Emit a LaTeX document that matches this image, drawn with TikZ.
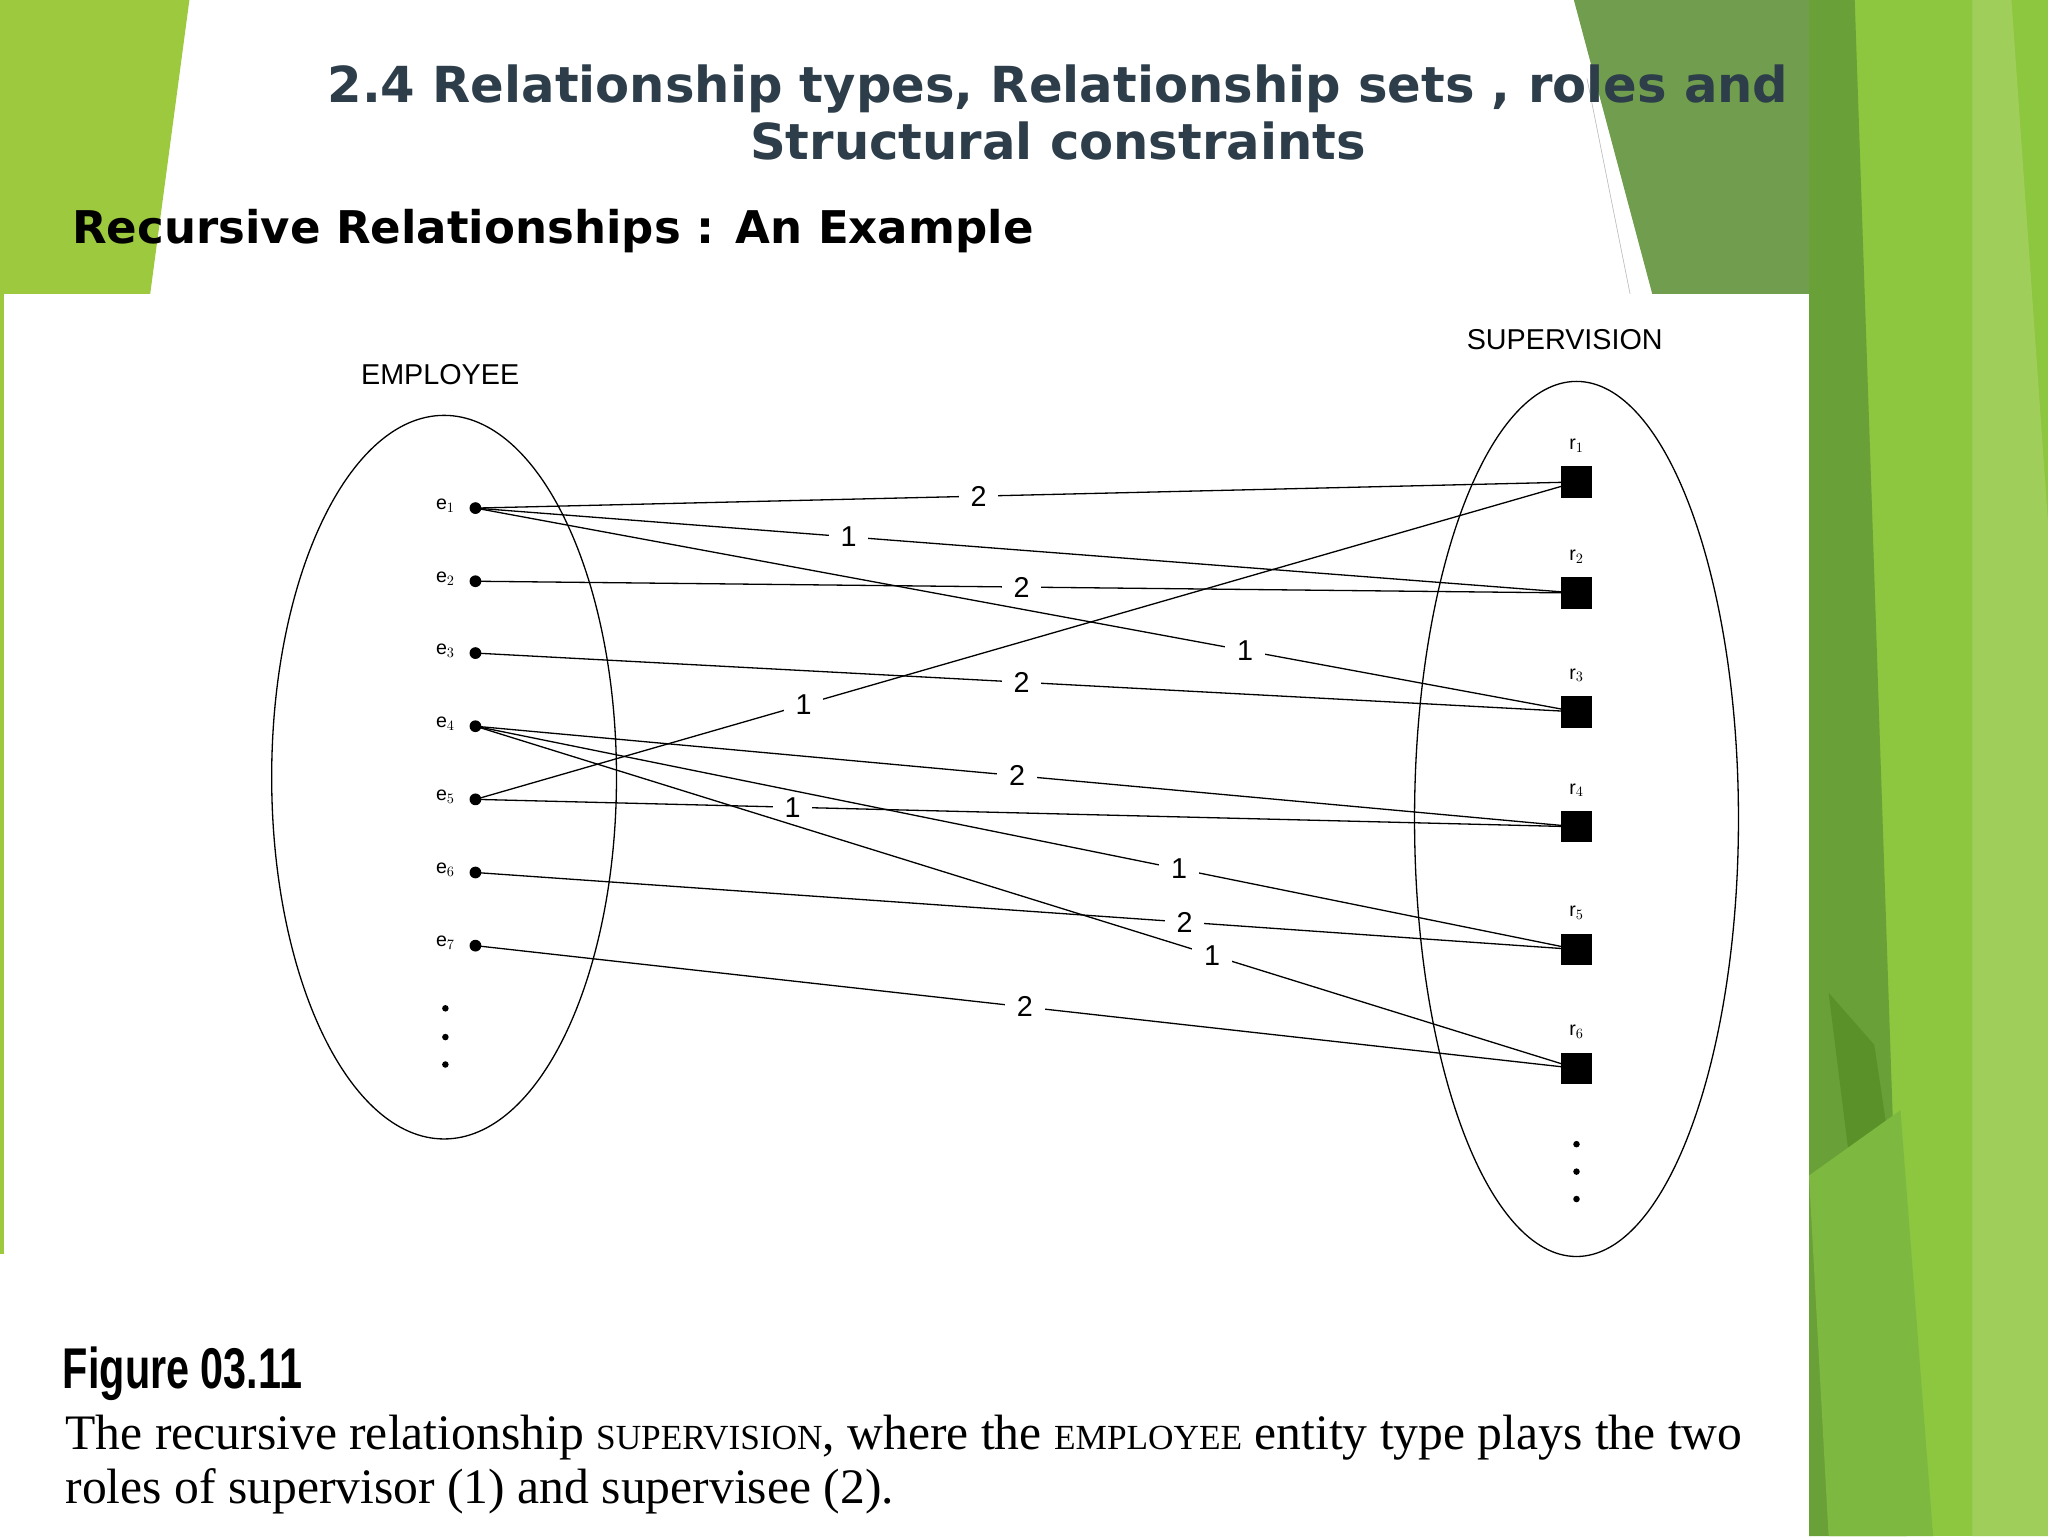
\documentclass[tikz,border=0pt]{standalone}
\usepackage{fontspec}
\usetikzlibrary{shapes.geometric}
\setmainfont{Liberation Serif}
\newfontfamily\titlefont{DejaVu Sans}
\newfontfamily\figfont{Liberation Sans}
\newcommand{\mysmc}[1]{{\fontsize{27}{30}\selectfont #1}}
\begin{document}
\begin{tikzpicture}[x=1pt,y=-1pt,
  edot/.style={circle,fill=black,inner sep=0pt,minimum size=9pt},
  rbox/.style={rectangle,fill=black,inner sep=0pt,minimum size=24pt},
  lbl/.style={font=\figfont\fontsize{22}{24}\selectfont,fill=white,inner xsep=9pt,inner ysep=3pt},
  sub/.style={font=\figfont\fontsize{15}{16}\selectfont,inner sep=0pt},
  sm/.style={circle,fill=black,inner sep=0pt,minimum size=5pt},
  rel/.style={draw=black,line width=1pt}]
\useasboundingbox (0,0) rectangle (1568,1176);
\fill[white] (0,0) rectangle (1568,1176);
% right greens
\fill[fill={rgb,255:red,141;green,198;blue,63}] (1385,0) rectangle (1568,1176);
\fill[fill={rgb,255:red,112;green,158;blue,78}] (1205,0) -- (1385,0) -- (1385,225) -- (1265,225) -- cycle;
\fill[fill={rgb,255:red,105;green,160;blue,55}] (1385,0) -- (1420,0) -- (1460,1176) -- (1385,1176) -- cycle;
\fill[fill={rgb,255:red,90;green,145;blue,40}] (1400,760) -- (1435,800) -- (1450,900) -- (1415,880) -- cycle;
\fill[fill={rgb,255:red,160;green,206;blue,90}] (1510,0) -- (1540,0) -- (1568,400) -- (1568,1176) -- (1510,1176) -- cycle;
\fill[fill={rgb,255:red,125;green,184;blue,65}] (1385,900) -- (1455,850) -- (1480,1176) -- (1400,1176) -- cycle;
\draw[gray!60] (1215,60) -- (1248,225);
% left green
\fill[fill={rgb,255:red,157;green,201;blue,63}] (0,0) -- (145,0) -- (115,225) -- (0,225) -- cycle;
\fill[fill={rgb,255:red,157;green,201;blue,63}] (0,225) rectangle (3,960);
% white figure box
\fill[white] (3,225) rectangle (1385,1176);
% titles
\node[font=\titlefont\bfseries\fontsize{38}{44}\selectfont,text={rgb,255:red,45;green,62;blue,74},align=center] (title) at (810,86) {2.4 Relationship types, Relationship sets , roles and\\Structural constraints};
\node[font=\titlefont\bfseries\fontsize{34.5}{38}\selectfont,anchor=west,inner sep=0pt] (sub) at (55,177) {Recursive Relationships : An Example};
% ellipses
\node[draw,line width=1pt,ellipse,minimum width=264pt,minimum height=554pt,inner sep=0pt] (emp) at (340,595) {};
\node[draw,line width=1pt,ellipse,minimum width=248pt,minimum height=670pt,inner sep=0pt] (sup) at (1207,627) {};
\node[font=\figfont\fontsize{22}{24}\selectfont] (empl) at (337,287) {EMPLOYEE};
\node[font=\figfont\fontsize{22}{24}\selectfont] (supl) at (1198,260) {SUPERVISION};
% e nodes
\foreach \i/\y in {1/389,2/445,3/500,4/556,5/612,6/668,7/724}{
  \node[edot] (e\i) at (364,\y) {};
  \node[sub] (el\i) at (341,\y-2) {e$_{\i}$};
}
\foreach \i/\y in {1/772,2/794,3/815}{\node[sm] (ed\i) at (341,\y) {};}
% r nodes
\foreach \i/\y in {1/369,2/454,3/545,4/633,5/727,6/818}{
  \node[rbox] (r\i) at (1207,\y) {};
  \node[sub] (rl\i) at (1207,\y-28) {r$_{\i}$};
}
\foreach \i/\y in {1/876,2/897,3/918}{\node[sm] (rd\i) at (1207,\y) {};}
% relationships
\draw[rel] (e1.center) -- node[lbl,pos=0.457]{2} (r1.center);
\draw[rel] (e1.center) -- node[lbl,pos=0.339]{1} (r2.center);
\draw[rel] (e1.center) -- node[lbl,pos=0.699]{1} (r3.center);
\draw[rel] (e2.center) -- node[lbl,pos=0.496]{2} (r2.center);
\draw[rel] (e3.center) -- node[lbl,pos=0.496]{2} (r3.center);
\draw[rel] (e5.center) -- node[lbl,pos=0.298]{1} (r1.center);
\draw[rel] (e4.center) -- node[lbl,pos=0.492]{2} (r4.center);
\draw[rel] (e5.center) -- node[lbl,pos=0.288]{1} (r4.center);
\draw[rel] (e4.center) -- node[lbl,pos=0.639]{1} (r5.center);
\draw[rel] (e6.center) -- node[lbl,pos=0.644]{2} (r5.center);
\draw[rel] (e4.center) -- node[lbl,pos=0.669]{1} (r6.center);
\draw[rel] (e7.center) -- node[lbl,pos=0.499]{2} (r6.center);
% caption
\node[anchor=west,inner sep=0pt,font=\figfont\bfseries\fontsize{44}{48}\selectfont] (fig) at (48,1052) {\scalebox{0.72}[1]{Figure 03.11}};
\node[anchor=base west,inner sep=0pt,font=\fontsize{38}{42}\selectfont] (cap1) at (50,1110) {The recursive relationship \mysmc{SUPERVISION}, where the \mysmc{EMPLOYEE} entity type plays the two};
\node[anchor=base west,inner sep=0pt,font=\fontsize{38}{42}\selectfont] (cap2) at (50,1151) {roles of supervisor (1) and supervisee (2).};
\end{tikzpicture}
\end{document}
